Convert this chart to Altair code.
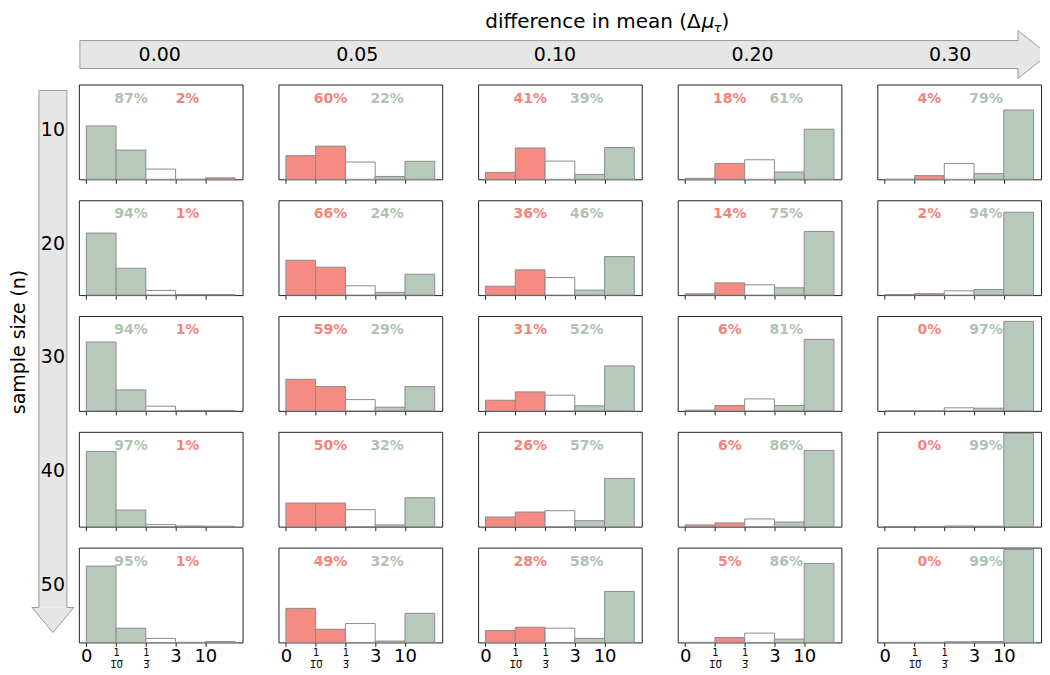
import altair as alt
import pandas as pd

# ---------------- data ----------------
diffs = ["0.00", "0.05", "0.10", "0.20", "0.30"]
sizes = ["10", "20", "30", "40", "50"]
bin_ticks = [0, 1, 2, 3, 4]

# fraction of simulations per Bayes-factor bin [0,1/10) [1/10,1/3) [1/3,3) [3,10) [10,inf)
frac_n10 = [[0.563, 0.308, 0.108, 0.000, 0.015],
            [0.250, 0.350, 0.182, 0.030, 0.190],
            [0.073, 0.330, 0.192, 0.052, 0.335],
            [0.010, 0.168, 0.206, 0.077, 0.528],
            [0.000, 0.039, 0.166, 0.060, 0.731]]
frac_n20 = [[0.654, 0.283, 0.049, 0.007, 0.006],
            [0.367, 0.294, 0.098, 0.028, 0.220],
            [0.094, 0.266, 0.185, 0.052, 0.406],
            [0.014, 0.129, 0.108, 0.077, 0.671],
            [0.005, 0.015, 0.045, 0.059, 0.874]]
frac_n30 = [[0.726, 0.221, 0.049, 0.005, 0.005],
            [0.333, 0.256, 0.119, 0.039, 0.256],
            [0.112, 0.200, 0.165, 0.053, 0.474],
            [0.007, 0.056, 0.126, 0.056, 0.754],
            [0.000, 0.000, 0.032, 0.028, 0.944]]
frac_n40 = [[0.793, 0.175, 0.021, 0.007, 0.004],
            [0.249, 0.249, 0.179, 0.018, 0.305],
            [0.102, 0.154, 0.168, 0.063, 0.509],
            [0.018, 0.039, 0.081, 0.049, 0.804],
            [0.002, 0.002, 0.007, 0.005, 0.984]]
frac_n50 = [[0.805, 0.150, 0.042, 0.000, 0.010],
            [0.359, 0.139, 0.199, 0.014, 0.307],
            [0.125, 0.160, 0.150, 0.042, 0.537],
            [0.000, 0.052, 0.098, 0.035, 0.833],
            [0.000, 0.000, 0.007, 0.010, 0.979]]
fracs = [frac_n10, frac_n20, frac_n30, frac_n40, frac_n50]

pct_left = [["87%", "60%", "41%", "18%", "4%"],
            ["94%", "66%", "36%", "14%", "2%"],
            ["94%", "59%", "31%", "6%", "0%"],
            ["97%", "50%", "26%", "6%", "0%"],
            ["95%", "49%", "28%", "5%", "0%"]]
pct_right = [["2%", "22%", "39%", "61%", "79%"],
             ["1%", "24%", "46%", "75%", "94%"],
             ["1%", "29%", "52%", "81%", "97%"],
             ["1%", "32%", "57%", "86%", "99%"],
             ["1%", "32%", "58%", "86%", "99%"]]

col_title = "difference in mean (Δ"
row_title = "sample size (n)"

# ---------------- styles / layout ----------------
FONT = "DejaVu Sans"
GREEN = "#b7c9ba"
RED = "#f58b82"
WHITE = "#ffffff"
TXT_GREEN = "#aec3b1"
TXT_RED = "#f4847b"
EDGE = "#8c8c8c"
ARROW_FILL = "#e6e6e6"
ARROW_STROKE = "#9a9a9a"

PW, PH = 164, 95           # panel size
HSP, VSP = 34, 15          # spacing between panels
TICK = 4
ROW_STEP = PH + VSP + TICK
COL_STEP = PW + HSP
GRID_H = 5 * PH + 4 * (VSP + TICK)
SIDE_W = 70
HEAD_H = 75
HEAD_W = 1034

# ---------------- tables ----------------
bar_rows, txt_rows = [], []
for i, n in enumerate(sizes):
    for j, d in enumerate(diffs):
        for k in range(5):
            if j == 0:
                fill = GREEN if k < 2 else (WHITE if k == 2 else RED)
            else:
                fill = RED if k < 2 else (WHITE if k == 2 else GREEN)
            bar_rows.append(dict(n=n, d=d, lo=bin_ticks[k], hi=bin_ticks[k] + 1,
                                 v=fracs[i][j][k], fill=fill))
        txt_rows.append(dict(n=n, d=d, tx=1.5, ty=0.85, label=pct_left[i][j],
                             col=TXT_GREEN if j == 0 else TXT_RED))
        txt_rows.append(dict(n=n, d=d, tx=3.4, ty=0.85, label=pct_right[i][j],
                             col=TXT_RED if j == 0 else TXT_GREEN))
bar_df = pd.DataFrame(bar_rows)
txt_df = pd.DataFrame(txt_rows)

xs = alt.Scale(domain=[-0.25, 5.25], nice=False, zero=False)
ys = alt.Scale(domain=[0, 1.0], nice=False)

OV = "\u0305"  # combining overline -> fraction bar above the denominator
label_expr = (f"datum.value == 1 ? ['1', '1{OV}0{OV}'] : datum.value == 2 ? ['1', '3{OV}'] : "
              "datum.value == 4 ? '10' : datum.label")


def make_axis(bottom):
    common = dict(values=bin_ticks, title=None, grid=False, domain=False,
                  ticks=True, tickSize=TICK, tickColor="#222", tickWidth=1)
    if bottom:
        return alt.Axis(labels=True, labelExpr=label_expr, labelFont=FONT,
                        labelColor="#000",
                        labelFontSize={"condition": {"test": "datum.value == 1 || datum.value == 2",
                                                     "value": 10}, "value": 18},
                        labelLineHeight=12, labelPadding=1, labelOverlap=False,
                        labelFlush=False, **common)
    return alt.Axis(labels=False, **common)


def panel(n, d, bottom):
    flt = f"datum.n == '{n}' && datum.d == '{d}'"
    bars = alt.Chart(bar_df).transform_filter(flt).mark_rect(
        stroke=EDGE, strokeWidth=1).encode(
        x=alt.X("lo:Q", scale=xs, axis=make_axis(bottom)),
        x2="hi:Q",
        y=alt.Y("v:Q", scale=ys, axis=None),
        y2=alt.datum(0),
        fill=alt.Fill("fill:N", scale=None),
    )
    txt = alt.Chart(txt_df).transform_filter(flt).mark_text(
        font=FONT, fontSize=14, fontWeight="bold", baseline="middle", align="center").encode(
        x=alt.X("tx:Q", scale=xs),
        y=alt.Y("ty:Q", scale=ys, axis=None),
        text="label:N",
        color=alt.Color("col:N", scale=None),
    )
    return alt.layer(bars, txt).properties(width=PW, height=PH)


rows = []
for i, n in enumerate(sizes):
    rows.append(alt.hconcat(*[panel(n, d, i == len(sizes) - 1) for d in diffs], spacing=HSP))
grid = alt.vconcat(*rows, spacing=VSP)

# ---------------- side header (rows) ----------------
sx = alt.Scale(domain=[0, SIDE_W], nice=False, zero=False)
sy = alt.Scale(domain=[0, GRID_H], reverse=True, nice=False, zero=False)
V_TOP, V_NECK, V_TIP = 6, GRID_H - 27, GRID_H - 2
V_B0, V_B1, V_H0, V_H1, V_C = 31, 59, 24, 66, 45

v_body = pd.DataFrame(dict(x0=[V_B0], x1=[V_B1], y0=[V_TOP], y1=[V_NECK]))
v_head = pd.DataFrame(dict(py=[V_NECK, V_TIP], px=[V_H0, V_C], px2=[V_H1, V_C]))
v_line = pd.DataFrame(dict(
    px=[V_B0, V_B0, V_H0, V_C, V_H1, V_B1, V_B1, V_B0],
    py=[V_TOP, V_NECK, V_NECK, V_TIP, V_NECK, V_NECK, V_TOP, V_TOP],
    o=list(range(8))))

side_body = alt.Chart(v_body).mark_rect(fill=ARROW_FILL).encode(
    x=alt.X("x0:Q", scale=sx, axis=None), x2="x1:Q",
    y=alt.Y("y0:Q", scale=sy, axis=None), y2="y1:Q")
side_head = alt.Chart(v_head).mark_area(orient="horizontal", fill=ARROW_FILL).encode(
    y=alt.Y("py:Q", scale=sy, axis=None),
    x=alt.X("px:Q", scale=sx, axis=None), x2="px2:Q")
side_outline = alt.Chart(v_line).mark_line(color=ARROW_STROKE, strokeWidth=1).encode(
    x=alt.X("px:Q", scale=sx, axis=None),
    y=alt.Y("py:Q", scale=sy, axis=None),
    order="o:Q")
row_df = pd.DataFrame(dict(n=sizes, idx=list(range(len(sizes)))))
side_labels = alt.Chart(row_df).mark_text(
    font=FONT, fontSize=19, color="#000", align="center", baseline="middle").encode(
    y=alt.Y("idx:Q", scale=alt.Scale(domain=[0, 4], range=[PH / 2 - 2, 4 * ROW_STEP + PH / 2 - 2]),
            axis=None),
    x=alt.value(V_C),
    text="n:N",
)
side_title = alt.Chart(pd.DataFrame(dict(t=[row_title]))).mark_text(
    font=FONT, fontSize=19, color="#000", angle=270, align="center", baseline="middle").encode(
    x=alt.value(11), y=alt.value(round(GRID_H * 0.468)), text="t:N")
side = alt.layer(side_body, side_head, side_outline, side_labels, side_title).resolve_scale(
    y="independent").properties(width=SIDE_W, height=GRID_H, view=alt.ViewBackground(strokeOpacity=0))

# ---------------- top header (columns) ----------------
hx = alt.Scale(domain=[0, HEAD_W], nice=False, zero=False)
hy = alt.Scale(domain=[0, HEAD_H], reverse=True, nice=False, zero=False)
H_L, H_NECK, H_TIP = SIDE_W + 2, SIDE_W + 5 * PW + 4 * HSP - 14, SIDE_W + 5 * PW + 4 * HSP + 16
H_B0, H_B1, H_H0, H_H1, H_C = 32, 60, 22, 70, 46

h_body = pd.DataFrame(dict(x0=[H_L], x1=[H_NECK], y0=[H_B0], y1=[H_B1]))
h_head = pd.DataFrame(dict(px=[H_NECK, H_TIP], py=[H_H0, H_C], py2=[H_H1, H_C]))
h_line = pd.DataFrame(dict(
    px=[H_L, H_NECK, H_NECK, H_TIP, H_NECK, H_NECK, H_L, H_L],
    py=[H_B0, H_B0, H_H0, H_C, H_H1, H_B1, H_B1, H_B0],
    o=list(range(8))))

head_body = alt.Chart(h_body).mark_rect(fill=ARROW_FILL).encode(
    x=alt.X("x0:Q", scale=hx, axis=None), x2="x1:Q",
    y=alt.Y("y0:Q", scale=hy, axis=None), y2="y1:Q")
head_head = alt.Chart(h_head).mark_area(orient="vertical", fill=ARROW_FILL, clip=True).encode(
    x=alt.X("px:Q", scale=hx, axis=None),
    y=alt.Y("py:Q", scale=hy, axis=None), y2="py2:Q")
head_outline = alt.Chart(h_line).mark_line(color=ARROW_STROKE, strokeWidth=1, clip=True).encode(
    x=alt.X("px:Q", scale=hx, axis=None),
    y=alt.Y("py:Q", scale=hy, axis=None),
    order="o:Q")
col_df = pd.DataFrame(dict(d=diffs, idx=list(range(len(diffs)))))
head_labels = alt.Chart(col_df).mark_text(
    font=FONT, fontSize=19, color="#000", align="center", baseline="middle").encode(
    x=alt.X("idx:Q", scale=alt.Scale(domain=[0, 4], range=[SIDE_W + PW / 2, SIDE_W + 4 * COL_STEP + PW / 2]),
            axis=None),
    y=alt.value(H_C),
    text="d:N",
)
TX, TY = 694, 13
t1 = alt.Chart(pd.DataFrame(dict(t=[col_title]))).mark_text(
    font=FONT, fontSize=20, color="#000", align="right", baseline="middle").encode(
    x=alt.value(TX), y=alt.value(TY), text="t:N")
t2 = alt.Chart(pd.DataFrame(dict(t=["μ"]))).mark_text(
    font=FONT, fontSize=20, fontStyle="italic", color="#000", align="left", baseline="middle").encode(
    x=alt.value(TX + 1), y=alt.value(TY), text="t:N")
t3 = alt.Chart(pd.DataFrame(dict(t=["τ"]))).mark_text(
    font=FONT, fontSize=13, fontStyle="italic", color="#000", align="left", baseline="middle").encode(
    x=alt.value(TX + 13), y=alt.value(TY + 6), text="t:N")
t4 = alt.Chart(pd.DataFrame(dict(t=[")"]))).mark_text(
    font=FONT, fontSize=20, color="#000", align="left", baseline="middle").encode(
    x=alt.value(TX + 21), y=alt.value(TY), text="t:N")
header = alt.layer(head_body, head_head, head_outline, head_labels, t1, t2, t3, t4).resolve_scale(
    x="independent").properties(width=HEAD_W, height=HEAD_H, view=alt.ViewBackground(strokeOpacity=0))

chart = alt.vconcat(header, alt.hconcat(side, grid, spacing=0), spacing=0).properties(
    padding={"left": 0, "top": 0, "right": 0, "bottom": 0}, background="white").configure_view(
    stroke="#222", strokeWidth=1)

chart.save("out.html", embed_options={"renderer": "svg", "actions": False})
